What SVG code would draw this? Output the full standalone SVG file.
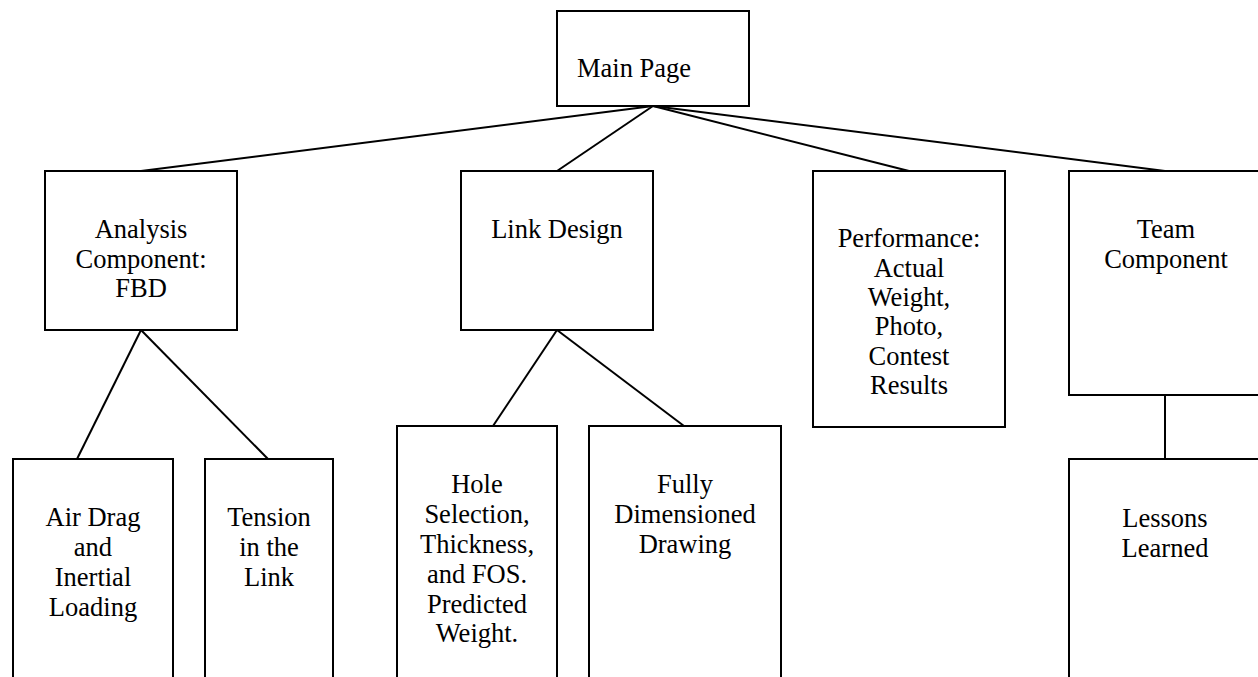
<svg xmlns="http://www.w3.org/2000/svg" width="1258" height="677" viewBox="0 0 1258 677">
<style>
.box{fill:#fff;stroke:#000;stroke-width:2}
.t{font-family:"Liberation Serif","Times New Roman",serif;font-size:26.5px;fill:#000;text-anchor:middle}
.c line{stroke:#000;stroke-width:2}
</style>
<rect width="1258" height="677" fill="#fff"/>
<g class="c" id="connectors">
<line x1="653" y1="106" x2="141" y2="171"/>
<line x1="653" y1="106" x2="557" y2="171"/>
<line x1="653" y1="106" x2="909" y2="171"/>
<line x1="653" y1="106" x2="1165" y2="171"/>
<line x1="141" y1="330" x2="77" y2="459"/>
<line x1="141" y1="330" x2="268" y2="459"/>
<line x1="557" y1="330" x2="493" y2="426"/>
<line x1="557" y1="330" x2="684" y2="426"/>
<line x1="1165" y1="395" x2="1165" y2="459"/>
</g>
<g id="main">
<rect class="box" x="557" y="11" width="192" height="95"/>
<text class="t" x="577" y="77" style="text-anchor:start">Main Page</text>
</g>
<g id="analysis">
<rect class="box" x="45" y="171" width="192" height="159"/>
<text class="t" x="141"><tspan x="141" y="238">Analysis</tspan><tspan x="141" y="268">Component:</tspan><tspan x="141" y="297">FBD</tspan></text>
</g>
<g id="link">
<rect class="box" x="461" y="171" width="192" height="159"/>
<text class="t" x="557" y="238">Link Design</text>
</g>
<g id="performance">
<rect class="box" x="813" y="171" width="192" height="256"/>
<text class="t"><tspan x="909" y="247">Performance:</tspan><tspan x="909" y="277">Actual</tspan><tspan x="909" y="306">Weight,</tspan><tspan x="909" y="335">Photo,</tspan><tspan x="909" y="365">Contest</tspan><tspan x="909" y="394">Results</tspan></text>
</g>
<g id="team">
<rect class="box" x="1069" y="171" width="194" height="224"/>
<text class="t"><tspan x="1166" y="238">Team</tspan><tspan x="1166" y="268">Component</tspan></text>
</g>
<g id="airdrag">
<rect class="box" x="13" y="459" width="160" height="230"/>
<text class="t"><tspan x="93" y="526">Air Drag</tspan><tspan x="93" y="556">and</tspan><tspan x="93" y="586">Inertial</tspan><tspan x="93" y="616">Loading</tspan></text>
</g>
<g id="tension">
<rect class="box" x="205" y="459" width="128" height="230"/>
<text class="t"><tspan x="269" y="526">Tension</tspan><tspan x="269" y="556">in the</tspan><tspan x="269" y="586">Link</tspan></text>
</g>
<g id="hole">
<rect class="box" x="397" y="426" width="160" height="260"/>
<text class="t"><tspan x="477" y="493">Hole</tspan><tspan x="477" y="523">Selection,</tspan><tspan x="477" y="553">Thickness,</tspan><tspan x="477" y="583">and FOS.</tspan><tspan x="477" y="613">Predicted</tspan><tspan x="477" y="642">Weight.</tspan></text>
</g>
<g id="fully">
<rect class="box" x="589" y="426" width="192" height="260"/>
<text class="t"><tspan x="685" y="493">Fully</tspan><tspan x="685" y="523">Dimensioned</tspan><tspan x="685" y="553">Drawing</tspan></text>
</g>
<g id="lessons">
<rect class="box" x="1069" y="459" width="194" height="230"/>
<text class="t"><tspan x="1165" y="527">Lessons</tspan><tspan x="1165" y="557">Learned</tspan></text>
</g>
</svg>
